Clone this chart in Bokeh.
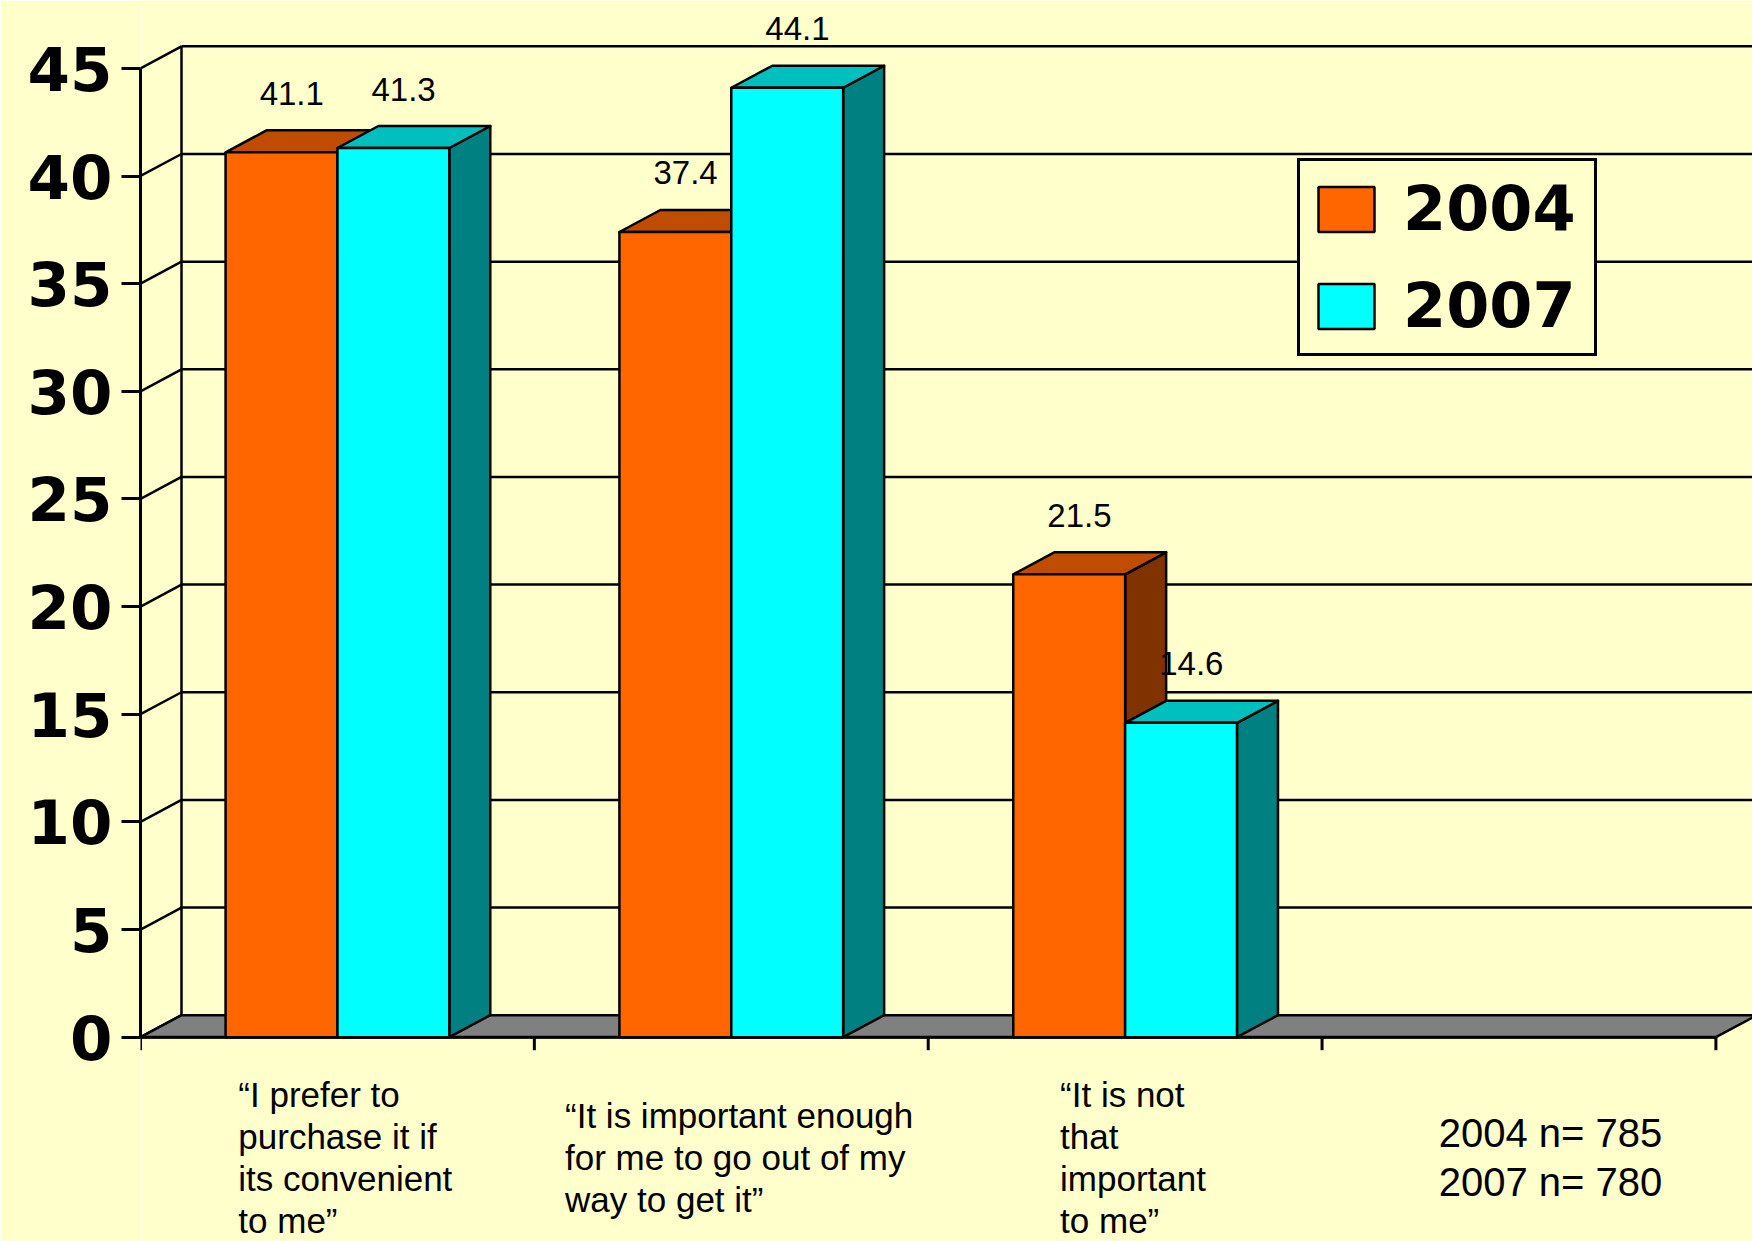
from bokeh.plotting import figure
from bokeh.models import Range1d, FixedTicker, Legend, LegendItem, ColumnDataSource
from bokeh.core.properties import value
from bokeh.embed import file_html
from bokeh.resources import INLINE

# ---------------- data ----------------
categories = [
    "\u201cI prefer to\npurchase it if\nits convenient\nto me\u201d",
    "\u201cIt is important enough\nfor me to go out of my\nway to get it\u201d",
    "\u201cIt is not\nthat\nimportant\nto me\u201d",
]
series = ["2004", "2007"]
values_2004 = [41.1, 37.4, 21.5]
values_2007 = [41.3, 44.1, 14.6]
y_ticks = [0, 5, 10, 15, 20, 25, 30, 35, 40, 45]
sample_sizes = ["2004 n= 785", "2007 n= 780"]
n_slots = 4  # category slots on the x axis (last one is empty)

# ---------------- styling / layout ----------------
BG = "#FFFFCC"
FRONT = {"2004": "#FF6600", "2007": "#00FFFF"}
TOP = {"2004": "#BF4C00", "2007": "#00BFBF"}
SIDE = {"2004": "#803300", "2007": "#008080"}
FONT = "Liberation Sans"
BOLD_FONT = "DejaVu Sans"

W, H = 1752, 1241
LEFT = 140
PX_PER_CAT = 393.85
PX_PER_UNIT = 21.53
Y0_PX = 1036.7

x_max = (W - LEFT) / PX_PER_CAT
y_max = Y0_PX / PX_PER_UNIT
y_min = -(H - Y0_PX) / PX_PER_UNIT

DX = 41 / PX_PER_CAT
DY = 22 / PX_PER_UNIT
BAR_W = 0.284
LW = 2.5

ARIAL = {c: 0.556 for c in "abdeghnopqu0123456789"}
ARIAL.update({"c": 0.5, "k": 0.5, "s": 0.5, "v": 0.5, "x": 0.5, "y": 0.5, "z": 0.5,
              "f": 0.278, "t": 0.278, "i": 0.222, "j": 0.222, "l": 0.222, "m": 0.833,
              "r": 0.333, "w": 0.722, " ": 0.278, "I": 0.278, "=": 0.584,
              "\u201c": 0.333, "\u201d": 0.333, ".": 0.278})


def text_width_px(s, size):
    return max(sum(ARIAL.get(ch, 0.556) for ch in line) for line in s.split("\n")) * size


p = figure(width=W, height=H, x_range=Range1d(0, x_max), y_range=Range1d(y_min, y_max),
           output_backend="svg", toolbar_location=None, x_axis_location=None,
           y_axis_location="left",
           min_border_left=LEFT, min_border_right=0, min_border_top=0, min_border_bottom=0,
           background_fill_color=BG, border_fill_color=BG, outline_line_color=None)
p.grid.visible = False

ax = p.yaxis[0]
ax.ticker = FixedTicker(ticks=y_ticks)
ax.bounds = (y_ticks[0], y_ticks[-1])
ax.axis_line_width = 3
ax.axis_line_color = "black"
ax.major_tick_line_width = 3
ax.major_tick_line_color = "black"
ax.major_tick_out = 19
ax.major_tick_in = 0
ax.minor_tick_out = 0
ax.minor_tick_in = 0
ax.major_label_standoff = 9
ax.major_label_text_font = BOLD_FONT
ax.major_label_text_font_style = "bold"
ax.major_label_text_font_size = "61px"
ax.major_label_text_color = "black"

# ---------------- walls ----------------
top_v = y_ticks[-1]
p.segment(x0=[DX] * len(y_ticks), y0=[v + DY for v in y_ticks],
          x1=[x_max] * len(y_ticks), y1=[v + DY for v in y_ticks],
          line_color="black", line_width=LW)
p.segment(x0=[0] * len(y_ticks), y0=y_ticks, x1=[DX] * len(y_ticks),
          y1=[v + DY for v in y_ticks], line_color="black", line_width=LW)
p.segment(x0=[DX], y0=[DY], x1=[DX], y1=[top_v + DY], line_color="black", line_width=LW)

# floor
p.patch([0, n_slots, n_slots + DX, DX], [0, 0, DY, DY], fill_color="#808080",
        line_color="black", line_width=LW)

# x axis line and ticks
slots = list(range(n_slots + 1))
p.segment(x0=[0], y0=[0], x1=[n_slots], y1=[0], line_color="black", line_width=3)
p.segment(x0=slots, y0=[0] * len(slots), x1=slots, y1=[-13 / PX_PER_UNIT] * len(slots),
          line_color="black", line_width=3)

# ---------------- bars ----------------
front_renderers = {}
for k, (name, vals) in enumerate(zip(series, [values_2004, values_2007])):
    lefts = [i + 0.5 - BAR_W + k * BAR_W for i in range(len(vals))]
    rights = [l + BAR_W for l in lefts]
    side_xs = [[r, r + DX, r + DX, r] for r in rights]
    side_ys = [[0, DY, v + DY, v] for v in vals]
    top_xs = [[l, r, r + DX, l + DX] for l, r in zip(lefts, rights)]
    top_ys = [[v, v, v + DY, v + DY] for v in vals]
    p.patches(side_xs, side_ys, fill_color=SIDE[name], line_color="black", line_width=LW,
              line_join="round")
    p.patches(top_xs, top_ys, fill_color=TOP[name], line_color="black", line_width=LW,
              line_join="round")
    src = ColumnDataSource(dict(left=lefts, right=rights, top=vals, bottom=[0] * len(vals)))
    r = p.quad(left="left", right="right", top="top", bottom="bottom", source=src,
               fill_color=FRONT[name], line_color="black", line_width=LW)
    front_renderers[name] = r
    lab = ColumnDataSource(dict(
        x=[(l + r_) / 2 + DX / 4 for l, r_ in zip(lefts, rights)],
        y=[v + DY + 37 / PX_PER_UNIT for v in vals],
        t=[f"{v:.1f}" for v in vals]))
    p.text(x="x", y="y", text="t", source=lab, text_font=value(FONT),
           text_font_size="33px", text_align="center", text_baseline="alphabetic",
           text_color="black")

# ---------------- category labels ----------------
LABEL_Y = -(1157 - Y0_PX) / PX_PER_UNIT
LABEL_SHIFT = 0.02
cat_x = [i + 0.5 + LABEL_SHIFT - text_width_px(c, 35) / 2 / PX_PER_CAT
         for i, c in enumerate(categories)]
p.text(x=cat_x, y=[LABEL_Y] * len(categories), text=categories, text_font=value(FONT),
       text_font_size="35px", text_align="left", text_baseline="middle",
       text_line_height=1.085, text_color="black")

note = "\n".join(sample_sizes)
note_x = n_slots - 0.5 + 0.08 - text_width_px(note, 40) / 2 / PX_PER_CAT
p.text(x=[note_x], y=[LABEL_Y], text=[note], text_font=value(FONT),
       text_font_size="40px", text_align="left", text_baseline="middle",
       text_line_height=1.12, text_color="black")

# ---------------- legend ----------------
legend = Legend(items=[LegendItem(label=s, renderers=[front_renderers[s]]) for s in series],
                location=(1157, H - 356), orientation="vertical",
                glyph_width=70, glyph_height=56, label_standoff=22,
                label_width=180, label_height=0, padding=11, spacing=24, margin=0,
                label_text_font=BOLD_FONT, label_text_font_style="bold",
                label_text_font_size="62px", label_text_color="black",
                border_line_color="black", border_line_width=3, border_line_alpha=1.0,
                background_fill_color=BG, background_fill_alpha=1.0)
p.add_layout(legend)

open("out.html", "w").write(file_html(p, INLINE))
